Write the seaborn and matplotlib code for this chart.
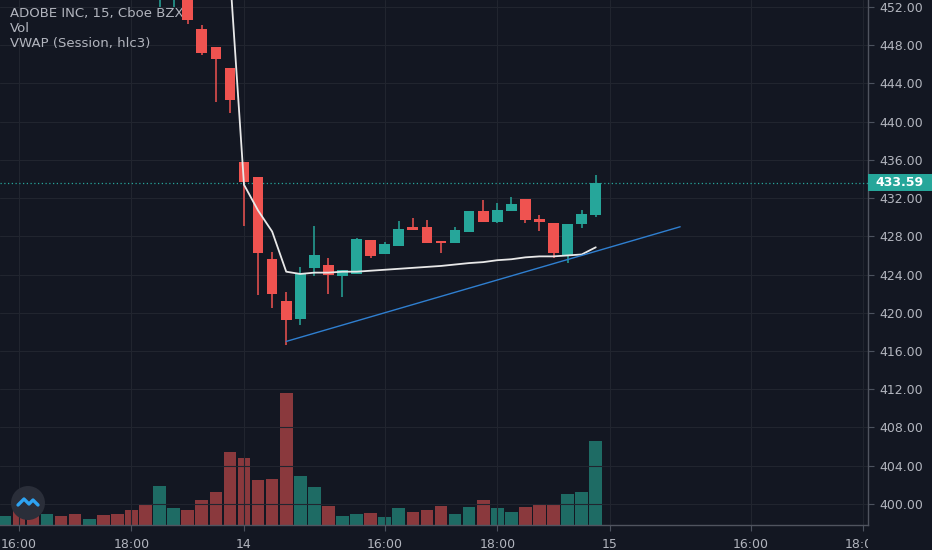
import numpy as np
import pandas as pd
import seaborn as sns
import matplotlib
matplotlib.use("Agg")
import matplotlib.pyplot as plt
from matplotlib.patches import Circle, Rectangle
from matplotlib.transforms import Bbox, TransformedBbox, blended_transform_factory

# --- data (15 min bars, index 0 = first bar of the 14th) ---
bar_idx = list(range(-17, 26))
opens = [458.2, 458.6, 457.8, 457.2, 458.0, 457.3, 456.4, 456.9, 455.9, 454.9, 454.6, 453.4, 454.6,
         455.6, 449.7, 447.8, 445.6, 435.8, 434.2, 425.6, 421.2, 419.3, 424.65, 425.0, 423.8, 424.1,
         427.6, 426.1, 427.0, 429.0, 429.0, 427.5, 427.3, 428.5, 430.6, 429.5, 430.65, 431.9, 429.85,
         429.35, 426.0, 429.25, 430.2]
highs = [459.0, 459.1, 458.3, 458.4, 458.5, 457.6, 457.2, 457.1, 456.2, 455.2, 454.8, 455.0, 456.0,
         455.9, 450.1, 447.8, 445.6, 435.8, 434.2, 426.4, 422.2, 424.8, 429.1, 425.7, 424.5, 427.8,
         427.6, 427.4, 429.6, 429.9, 429.7, 427.5, 429.0, 430.65, 431.8, 431.5, 432.1, 431.9, 430.2,
         429.35, 429.3, 430.8, 434.45]
lows = [457.6, 457.4, 456.9, 456.8, 457.0, 456.1, 456.0, 455.6, 454.6, 454.3, 453.4, 452.0, 452.0,
        450.2, 447.0, 442.1, 440.9, 429.1, 421.9, 420.5, 416.6, 418.7, 423.85, 422.0, 421.7, 424.1,
        425.7, 426.1, 427.0, 428.7, 427.3, 426.3, 427.3, 428.5, 429.5, 429.4, 430.65, 429.4, 428.6,
        425.7, 425.2, 428.9, 430.0]
closes = [458.6, 457.8, 457.2, 458.0, 457.3, 456.4, 456.9, 455.9, 454.9, 454.6, 453.7, 454.6, 455.6,
          450.64, 447.2, 446.6, 442.3, 433.7, 426.3, 422.0, 419.2, 424.1, 426.0, 424.0, 424.5, 427.7,
          425.9, 427.2, 428.8, 428.7, 427.3, 427.3, 428.7, 430.65, 429.5, 430.8, 431.4, 429.7, 429.5,
          426.3, 429.3, 430.3, 433.59]
volumes = [14, 24, 16, 16, 13, 16, 9, 15, 16, 23, 32, 58, 25,
           23, 37, 49, 110, 100, 68, 69, 198, 74, 57, 28, 14, 16,
           18, 12, 25, 20, 22, 28, 17, 27, 38, 26, 20, 27, 32,
           31, 47, 49, 126]
vwap = [458.4, 458.4, 458.3, 458.2, 458.2, 458.1, 458.0, 457.9, 457.8, 457.6, 457.4, 457.2, 457.0,
        456.7, 456.4, 456.0, 455.5, 433.4, 430.7, 428.5, 424.3, 424.06, 424.2, 424.2, 424.3, 424.3,
        424.4, 424.5, 424.6, 424.7, 424.8, 424.9, 425.05, 425.2, 425.3, 425.5, 425.6, 425.8, 425.9,
        425.9, 426.0, 426.1, 426.85]
trend_x = [3, 31]
trend_y = [417.0, 429.0]
last_price = 433.59
tick_pos = [-16, -8, 0, 10, 18, 26, 36, 44]
tick_lbl = ["16:00", "18:00", "14", "16:00", "18:00", "15", "16:00", "18:00"]
price_ticks = list(range(400, 453, 4))

bg = "#131722"
grid_c = "#21252f"
txt_c = "#b2b5be"
up_c, dn_c = "#26a69a", "#ef5350"
vup_c, vdn_c = "#1e6b64", "#8a393d"

sns.set_theme(style="dark", rc={"axes.facecolor": bg, "figure.facecolor": bg})
plt.rcParams["font.family"] = ["DejaVu Sans"]

df = pd.DataFrame({"i": bar_idx, "open": opens, "high": highs, "low": lows,
                   "close": closes, "vol": volumes, "vwap": vwap})
df["up"] = df["close"] >= df["open"]

fig = plt.figure(figsize=(9.32, 5.5), dpi=100)
rect = [0, 25 / 550, 868 / 932, 525 / 550]
ax = fig.add_axes(rect)
axv = ax.twinx()
ax.set_zorder(axv.get_zorder() + 1)
ax.patch.set_visible(False)
axv.patch.set_visible(True)
axv.patch.set_facecolor(bg)

# volume
axv.bar(df["i"], df["vol"], width=0.9,
        color=np.where(df["up"], vup_c, vdn_c), linewidth=0)
axv.set_ylim(0, 787.5)
axv.set_yticks([])
for s in axv.spines.values():
    s.set_visible(False)

# candles
cols = np.where(df["up"], up_c, dn_c)
ax.vlines(df["i"], df["low"], df["high"], colors=cols, linewidth=1.1, zorder=3)
body_lo = np.minimum(df["open"], df["close"])
body_h = np.maximum(np.abs(df["close"] - df["open"]), 0.25)
ax.bar(df["i"], body_h, bottom=body_lo, width=0.76, color=cols, linewidth=0, zorder=4)

# vwap + trend line
sns.lineplot(x=df["i"], y=df["vwap"], ax=ax, color="#e8e8e8", linewidth=1.3, zorder=5)
sns.lineplot(x=trend_x, y=trend_y, ax=ax, color="#2f7fd0", linewidth=1.0, zorder=5)
ax.axhline(last_price, color=up_c, linestyle=(0, (1, 2)), linewidth=0.9, zorder=2)

ax.set_xlim(-244 / 14.07, 624 / 14.07)
ax.set_ylim(397.79, 452.73)
ax.set_xlabel("")
ax.set_ylabel("")

ax.yaxis.tick_right()
ax.set_yticks(price_ticks)
ax.set_yticklabels([f"{p:.2f}" for p in price_ticks])
ax.set_xticks(tick_pos)
ax.set_xticklabels(tick_lbl)
ax.tick_params(axis="both", colors="#4c525e", labelcolor=txt_c, labelsize=9,
               length=4, width=0.8, direction="out")
ax.tick_params(axis="y", right=True, left=False, pad=4)
ax.tick_params(axis="x", bottom=True, pad=5)
ax.grid(True, color=grid_c, linewidth=0.8)
for s in ["top", "left"]:
    ax.spines[s].set_visible(False)
for s in ["right", "bottom"]:
    ax.spines[s].set_visible(True)
    ax.spines[s].set_color("#50545f")
    ax.spines[s].set_linewidth(1.0)

# clip x labels at the price scale
for t in ax.get_xticklabels():
    t.set_clip_on(True)
    t.set_clip_box(TransformedBbox(Bbox([[0, 0], [868 / 932, 1]]), fig.transFigure))

# last price tag on the price scale
tr = blended_transform_factory(ax.transAxes, ax.transData)
half = 8.5 / 9.556
ax.add_patch(Rectangle((1.0, last_price - half), 64 / 868, 2 * half, transform=tr,
                       facecolor=up_c, edgecolor="none", clip_on=False, zorder=10))
ax.text(1 + 32 / 868, last_price, f"{last_price:.2f}", transform=tr, ha="center", va="center",
        color="white", fontsize=9, fontweight="bold", clip_on=False, zorder=11)

# legend text
ax.text(10 / 868, 1 - 14 / 525, "ADOBE INC, 15, Cboe BZX", transform=ax.transAxes,
        color=txt_c, fontsize=9.5, va="center", ha="left")
ax.text(10 / 868, 1 - 29 / 525, "Vol", transform=ax.transAxes,
        color=txt_c, fontsize=9.5, va="center", ha="left")
ax.text(10 / 868, 1 - 44 / 525, "VWAP (Session, hlc3)", transform=ax.transAxes,
        color=txt_c, fontsize=9.5, va="center", ha="left")

# logo badge
fig.patches.append(Circle((28, 47), 17, transform=None, facecolor="#2a2e39",
                          edgecolor="none", zorder=20))
fig.add_artist(plt.Line2D([18 / 932, 24 / 932, 29 / 932, 33 / 932, 38 / 932],
                          [45 / 550, 51 / 550, 46 / 550, 50 / 550, 45 / 550],
                          transform=fig.transFigure, color="#2ea3f2", linewidth=2.4, zorder=21))

fig.savefig("out.png", dpi=100, facecolor=bg)
